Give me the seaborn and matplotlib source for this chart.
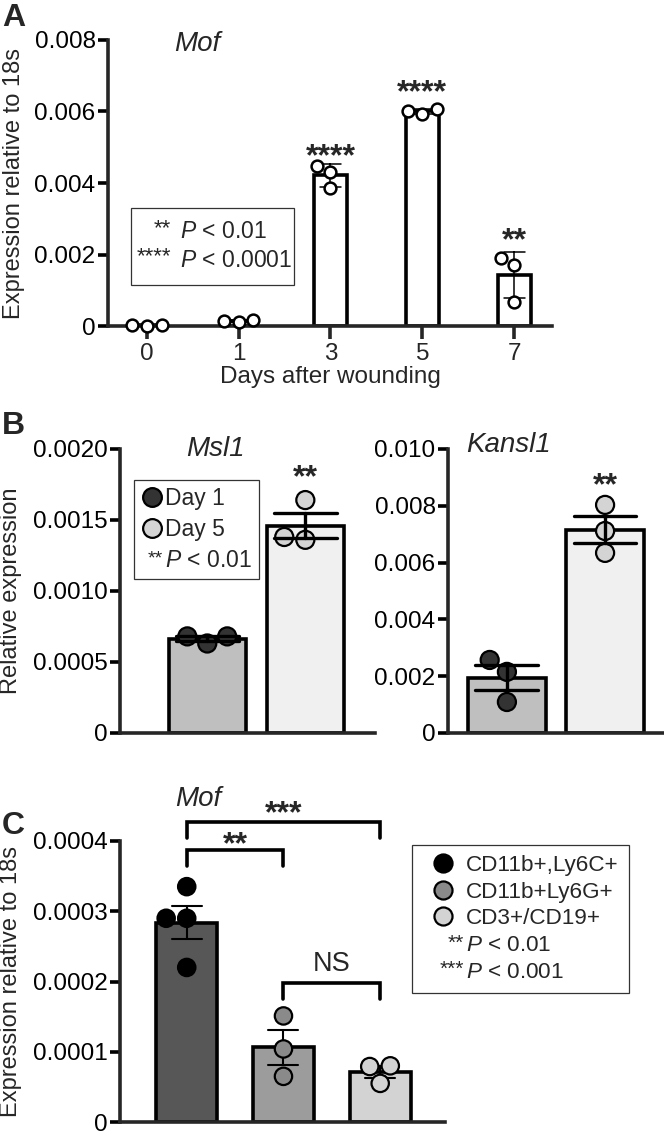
import numpy as np
import pandas as pd
import seaborn as sns
import matplotlib.pyplot as plt
from matplotlib.lines import Line2D
from matplotlib.patches import Rectangle
from matplotlib.text import Text
from matplotlib.legend_handler import HandlerBase
from matplotlib.ticker import FuncFormatter

sns.set_style('ticks')
plt.rcParams['font.family'] = ['Liberation Sans', 'DejaVu Sans']
plt.rcParams['mathtext.fontset'] = 'custom'
plt.rcParams['mathtext.rm'] = 'Liberation Sans'
plt.rcParams['mathtext.it'] = 'Liberation Sans:italic'

# A: Mof after wounding (mean +/- SD)
days = ['0', '1', '3', '5', '7']
mof_day0 = [0.00002, 0.00001, 0.00002]
mof_day1 = [0.00012, 0.00016, 0.00013]
mof_day3 = [0.00448, 0.00386, 0.00430]
mof_day5 = [0.00594, 0.00606, 0.00600]
mof_day7 = [0.00190, 0.00068, 0.00170]
stars_a = ['', '', '****', '****', '**']
stars_a_y = [0, 0, 0.0043, 0.0061, 0.00195]

# B: Msl1 / Kansl1 (mean +/- SEM)
groups_b = ['Day 1', 'Day 5']
msl1_day1 = [0.00068, 0.00063, 0.00068]
msl1_day5 = [0.00164, 0.00136, 0.00138]
kansl1_day1 = [0.00257, 0.00215, 0.00109]
kansl1_day5 = [0.00803, 0.00711, 0.00634]
bar_cols_b = ['#bfbfbf', '#f0f0f0']
pt_cols_b = ['#333333', '#d4d4d4']

# C: Mof by cell type (mean +/- SEM)
cells = ['CD11b+,Ly6C+', 'CD11b+Ly6G+', 'CD3+/CD19+']
mof_ly6c = [0.000335, 0.00029, 0.00029, 0.00022]
mof_ly6g = [0.000151, 0.000104, 0.000065]
mof_cd3 = [0.000080, 0.000079, 0.000055]
bar_cols_c = ['#575757', '#9c9c9c', '#d3d3d3']
pt_cols_c = ['#000000', '#8a8a8a', '#d3d3d3']

LW = 2.6


class StarHandler(HandlerBase):
    # draws the asterisks as text in the legend handle slot, right aligned
    def __init__(self, stars, size):
        super().__init__()
        self.stars = stars
        self.size = size

    def create_artists(self, legend, orig_handle, xdescent, ydescent, width, height,
                       fontsize, trans):
        t = Text(width - xdescent, height * 0.5 - ydescent, self.stars, ha='right',
                 va='center', fontsize=self.size, transform=trans)
        return [t]


def style(ax, fmt, xticks=False):
    sns.despine(ax=ax)
    ax.spines['left'].set_linewidth(LW)
    ax.spines['bottom'].set_linewidth(LW)
    ax.tick_params(axis='y', width=LW, length=7, labelsize=17.5, colors='black', pad=2)
    ax.yaxis.set_major_formatter(FuncFormatter(lambda v, p: '0' if v == 0 else fmt.format(v)))
    if xticks:
        ax.tick_params(axis='x', width=LW, length=9, labelsize=17.5, pad=3)
    else:
        ax.set_xticks([])
    ax.set_xlabel('')
    for c in ax.collections:
        c.set_clip_on(False)
    for l in ax.lines:
        l.set_clip_on(False)


fig = plt.figure(figsize=(6.64, 11.36), dpi=100)

# ---------------- A ----------------
df_a = pd.DataFrame({
    'day': np.repeat(days, 3),
    'expr': mof_day0 + mof_day1 + mof_day3 + mof_day5 + mof_day7,
})
axA = fig.add_axes([0.1627, 0.7130, 0.6686, 0.2518])
sns.barplot(df_a, x='day', y='expr', color='white', saturation=1, edgecolor='black',
            linewidth=LW, width=0.36, errorbar='sd', capsize=0.23,
            err_kws={'linewidth': 1.1, 'color': 'black'}, ax=axA)
sns.swarmplot(df_a, x='day', y='expr', color='white', edgecolor='black', linewidth=1.8,
              size=8.5, ax=axA)
axA.set_ylim(0, 0.008)
axA.set_yticks(np.arange(0, 0.0081, 0.002))
axA.set_xlim(-0.42, 4.41)
style(axA, '{:.3f}', xticks=True)
axA.set_ylabel('Expression relative to 18s', fontsize=17, labelpad=7)
axA.set_xlabel('Days after wounding', fontsize=17.5, labelpad=1)
axA.text(0.2, 0.985, 'Mof', transform=axA.transAxes, ha='center', va='center',
         fontsize=20, style='italic')
for i, s in enumerate(stars_a):
    if s:
        axA.text(i, stars_a_y[i], s, ha='center', va='bottom', fontsize=23, weight='bold')
axA.add_patch(Rectangle((0.052, 0.143), 0.367, 0.270, transform=axA.transAxes,
                        fill=False, edgecolor='#333333', linewidth=0.9))
for y, s, p in [(0.33, '**', '0.01'), (0.23, '****', '0.0001')]:
    axA.text(0.142, y + 0.012, s, transform=axA.transAxes, ha='right', va='center',
             fontsize=16)
    axA.text(0.162, y, r'$\mathit{P}$ < ' + p, transform=axA.transAxes, ha='left',
             va='center', fontsize=16.5)

# ---------------- B ----------------
panels_b = [
    ('Msl1', msl1_day1, msl1_day5, [0.1807, 0.3548, 0.3840, 0.2500], (0, 0.002), 0.0005,
     '{:.4f}', (-0.89, 1.71), (0.373, 1.0), 0.00169),
    ('Kansl1', kansl1_day1, kansl1_day5, [0.6747, 0.3548, 0.3238, 0.2500], (0, 0.010), 0.002,
     '{:.3f}', (-0.60, 1.59), (0.28, 1.014), 0.00815),
]
for name, d1, d5, rect, ylim, step, fmt, xlim, tpos, star_y in panels_b:
    df_b = pd.DataFrame({'group': [groups_b[0]] * len(d1) + [groups_b[1]] * len(d5),
                         'expr': d1 + d5})
    ax = fig.add_axes(rect)
    sns.barplot(df_b, x='group', y='expr', hue='group', palette=bar_cols_b, saturation=1,
                edgecolor='black', linewidth=LW, width=0.79, errorbar=('se', 1),
                capsize=0.64, err_kws={'linewidth': 2.4, 'color': 'black'}, legend=False, ax=ax)
    sns.swarmplot(df_b, x='group', y='expr', hue='group', palette=pt_cols_b, edgecolor='black',
                  linewidth=1.6, size=13, legend=False, ax=ax)
    for l in ax.lines:
        l.set_zorder(5)
    ax.set_ylim(*ylim)
    ax.set_yticks(np.arange(ylim[0], ylim[1] + step / 2, step))
    ax.set_xlim(*xlim)
    style(ax, fmt)
    ax.set_ylabel('')
    ax.text(tpos[0], tpos[1], name, transform=ax.transAxes, ha='center', va='center',
            fontsize=20, style='italic')
    ax.text(1, star_y, '**', ha='center', va='bottom', fontsize=23, weight='bold')
    if name == 'Msl1':
        ax.set_ylabel('Relative expression', fontsize=17, labelpad=8)
        handles = [Line2D([], [], ls='none', marker='o', markersize=13.5,
                          markerfacecolor=c, markeredgecolor='black', markeredgewidth=1.6)
                   for c in pt_cols_b]
        star_h = Line2D([], [])
        ax.legend(handles + [star_h], groups_b + [r'$\mathit{P}$ < 0.01'], loc='upper left',
                  bbox_to_anchor=(0.055, 0.891), borderaxespad=0, fontsize=16.5,
                  handlelength=0.95, handletextpad=0.12, borderpad=0.3, labelspacing=0.36,
                  frameon=True, fancybox=False, framealpha=1, edgecolor='#333333',
                  handler_map={star_h: StarHandler('**', 14)})
        ax.get_legend().get_frame().set_linewidth(0.9)

# ---------------- C ----------------
df_c = pd.DataFrame({
    'cell': [cells[0]] * len(mof_ly6c) + [cells[1]] * len(mof_ly6g) + [cells[2]] * len(mof_cd3),
    'expr': mof_ly6c + mof_ly6g + mof_cd3,
})
axC = fig.add_axes([0.1807, 0.0123, 0.4895, 0.2474])
sns.barplot(df_c, x='cell', y='expr', hue='cell', palette=bar_cols_c, saturation=1,
            edgecolor='black', linewidth=LW, width=0.63, errorbar=('se', 1), capsize=0.31,
            err_kws={'linewidth': 1.5, 'color': 'black'}, legend=False, ax=axC)
sns.swarmplot(df_c, x='cell', y='expr', hue='cell', palette=pt_cols_c, edgecolor='black',
              linewidth=1.6, size=12.5, legend=False, ax=axC)
axC.set_ylim(0, 0.0004)
axC.set_yticks(np.arange(0, 0.00041, 0.0001))
axC.set_xlim(-0.69, 2.67)
style(axC, '{:.4f}')
axC.set_ylabel('Expression relative to 18s', fontsize=17, labelpad=8)
axC.text(0.24, 1.151, 'Mof', transform=axC.transAxes, ha='center', va='center',
         fontsize=20, style='italic')
brackets = [(0, 1, '**', 0.000387, -0.000015), (0, 2, '***', 0.000427, -0.00001),
            (1, 2, 'NS', 0.000198, 0.000008)]
for x0, x1, lab, y, dy in brackets:
    axC.plot([x0, x0, x1, x1], [y - 0.000023, y, y, y - 0.000023], color='black',
             lw=LW, clip_on=False, solid_joinstyle='miter')
    if lab == 'NS':
        axC.text((x0 + x1) / 2, y + dy, lab, ha='center', va='bottom', fontsize=19.5)
    else:
        axC.text((x0 + x1) / 2, y + dy, lab, ha='center', va='bottom', fontsize=23,
                 weight='bold')
handles = [Line2D([], [], ls='none', marker='o', markersize=13, markerfacecolor=c,
                  markeredgecolor='black', markeredgewidth=1.6) for c in pt_cols_c]
star2, star3 = Line2D([], []), Line2D([], [])
axC.legend(handles + [star2, star3], cells + [r'$\mathit{P}$ < 0.01', r'$\mathit{P}$ < 0.001'],
           loc='upper left', bbox_to_anchor=(0.898, 0.986), borderaxespad=0, fontsize=16.2,
           handlelength=1.85, handletextpad=0.1, borderpad=0.45, labelspacing=0.25,
           frameon=True, fancybox=False, framealpha=1, edgecolor='#333333',
           handler_map={star2: StarHandler('**', 15), star3: StarHandler('***', 15)})
axC.get_legend().get_frame().set_linewidth(0.9)

# panel letters
fig.text(0.003, 0.997, 'A', ha='left', va='top', fontsize=23, weight='bold')
fig.text(0.003, 1 - 411 / 1136, 'B', ha='left', va='top', fontsize=23, weight='bold')
fig.text(0.003, 1 - 811 / 1136, 'C', ha='left', va='top', fontsize=23, weight='bold')

fig.savefig('out.png', dpi=100)
